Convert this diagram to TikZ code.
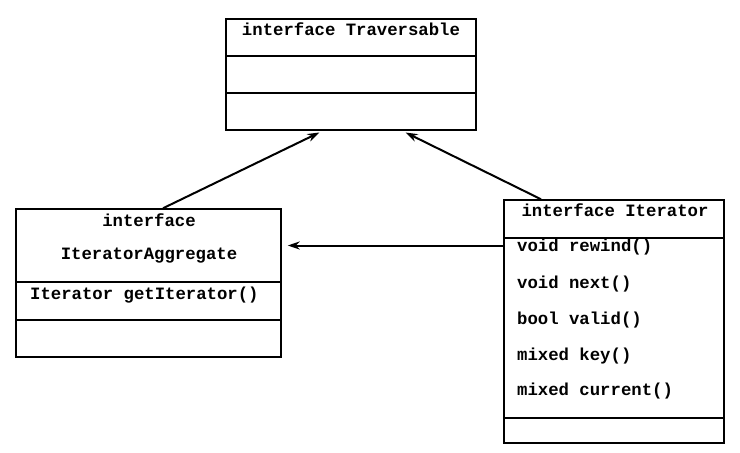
\documentclass[tikz,border=0pt]{standalone}
\usepackage{fontspec}
\setmonofont{Liberation Mono}
\usetikzlibrary{arrows.meta}
\begin{document}
\begin{tikzpicture}[x=1pt,y=-1pt,
  font=\ttfamily\bfseries\fontsize{17.3}{20}\selectfont,
  >={Stealth[length=12pt,width=8pt]}]
\tikzset{
  part/.style={draw, rectangle, line width=1.5pt, inner sep=0pt},
  member/.style={anchor=west, inner sep=0pt},
  link/.style={->, line width=2pt}
}
\useasboundingbox (0,0) rectangle (740,453);

% interface Traversable
\node[part, minimum width=250pt, minimum height=37pt] (travHead) at (351,37.5) {};
\node[part, minimum width=250pt, minimum height=37pt] (travAttr) at (351,74.5) {};
\node[part, minimum width=250pt, minimum height=37pt] (travOps) at (351,111.5) {};
\node (travName) at (351,29) {interface Traversable};

% interface IteratorAggregate
\node[part, minimum width=265pt, minimum height=73pt] (aggHead) at (148.5,245.5) {};
\node[part, minimum width=265pt, minimum height=38pt] (aggOps) at (148.5,301) {};
\node[part, minimum width=265pt, minimum height=37pt] (aggAttr) at (148.5,338.5) {};
\node (aggKind) at (149,220) {interface};
\node (aggName) at (149,256) {IteratorAggregate};
\node[member] (aggGet) at (30,295) {Iterator getIterator()};

% interface Iterator
\node[part, minimum width=220pt, minimum height=38pt] (iterHead) at (614,219) {};
\node[part, minimum width=220pt, minimum height=180pt] (iterOps) at (614,328) {};
\node[part, minimum width=220pt, minimum height=25pt] (iterAttr) at (614,430.5) {};
\node (iterName) at (615,210) {interface Iterator};
\node[member] (iterRewind) at (517,247) {void rewind()};
\node[member] (iterNext) at (517,284) {void next()};
\node[member] (iterValid) at (517,320) {bool valid()};
\node[member] (iterKey) at (517,356) {mixed key()};
\node[member] (iterCurrent) at (517,391) {mixed current()};

\draw[link, shorten >=4pt] ([xshift=14.5pt]aggHead.north) -- ([xshift=-28pt]travOps.south);
\draw[link, shorten >=4pt] ([xshift=-73pt]iterHead.north) -- ([xshift=51pt]travOps.south);
\draw[link, shorten >=6pt] (iterOps.west |- aggHead.east) -- (aggHead.east);
\end{tikzpicture}
\end{document}
